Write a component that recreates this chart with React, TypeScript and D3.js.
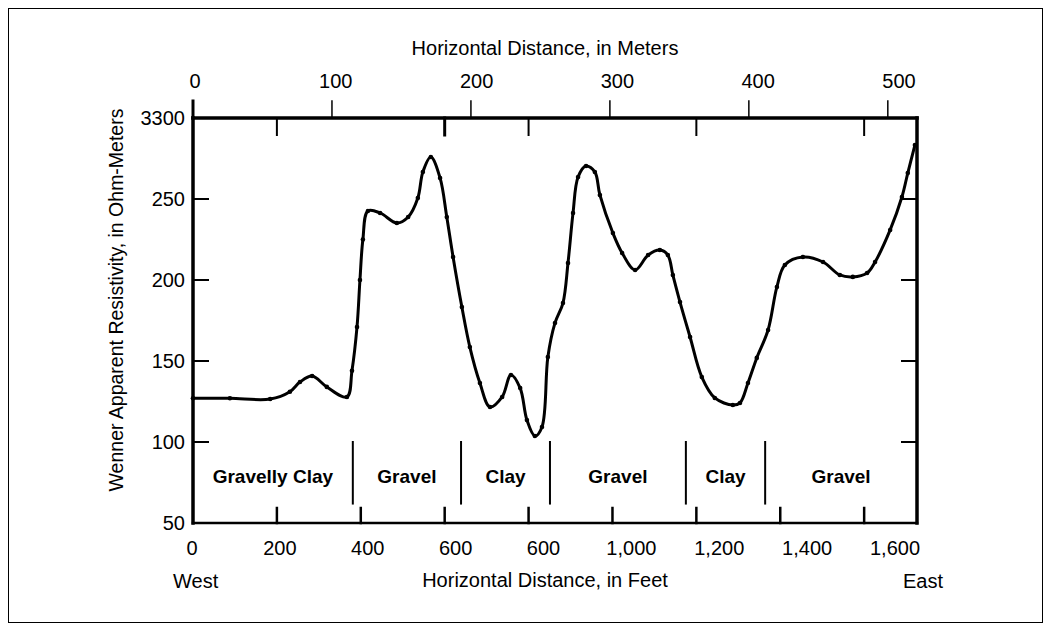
import { useEffect, useRef } from "react";
import * as d3 from "d3";

// Resistivity profile (distance in feet, ohm-meters)
const DIST_FT = [
  0, 88, 184, 231, 255, 284, 319, 367, 379, 391, 398, 405, 417, 446, 486, 513,
  536, 548, 567, 589, 605, 620, 641, 660, 684, 708, 737, 758, 780, 796, 815,
  832, 846, 863, 882, 894, 906, 918, 937, 958, 970, 1001, 1023, 1054, 1085,
  1113, 1132, 1144, 1161, 1185, 1213, 1244, 1287, 1304, 1323, 1344, 1371,
  1392, 1411, 1454, 1502, 1542, 1573, 1607, 1626, 1662, 1690, 1704, 1721,
];
const RESISTIVITY = [
  127, 127, 126.5, 131, 137, 140.7, 134, 127.8, 144, 171, 200, 225, 242.6,
  241.4, 235.2, 238.9, 250.6, 266.7, 275.9, 263, 238.9, 214.2, 183.3, 158.6,
  136.4, 121.6, 127.8, 141.4, 133.3, 113.6, 103.7, 109.3, 152.5, 173.5, 185.8,
  210.5, 241.4, 263.6, 270.4, 266.7, 252.5, 229, 216.7, 206.2, 215.4, 218.5,
  215.4, 203.1, 186.4, 164.8, 140.1, 127.2, 122.8, 124.1, 136.4, 151.9, 169.1,
  195.7, 209.3, 214.2, 211.1, 203.1, 201.9, 204.3, 211.1, 230.9, 251.2, 266,
  283.3,
];

// Soil layers along the profile
const LAYER_NAMES = ["Gravelly Clay", "Gravel", "Clay", "Gravel", "Clay", "Gravel"];
const LAYER_BOUNDS_FT = [0, 381, 639, 851, 1175, 1364, 1726];

const Y_TICKS = [300, 250, 200, 150, 100, 50];
const Y_LABELS = ["3300", "250", "200", "150", "100", "50"];
const FEET_TICKS = [0, 200, 400, 600, 800, 1000, 1200, 1400, 1600];
const FEET_LABELS = ["0", "200", "400", "600", "600", "1,000", "1,200", "1,400", "1,600"];
const METER_TICKS = [0, 100, 200, 300, 400, 500];
const TOP_FEET_TICKS = [200, 600, 800, 1200, 1600];

const W = 1051;
const H = 631;
const PLOT = { left: 193, top: 118, right: 917, bottom: 523 };
const FONT = "'Liberation Sans', Arial, Helvetica, sans-serif";

export default function App() {
  const svgRef = useRef<SVGSVGElement>(null);

  useEffect(() => {
    if (!svgRef.current) return;
    const svg = d3.select(svgRef.current);
    svg.selectAll("*").remove();

    const x = d3.scaleLinear().domain([0, 1726]).range([PLOT.left, PLOT.right]);
    const xM = d3.scaleLinear().domain([0, 521]).range([PLOT.left, PLOT.right]);
    // the printed labels drift a little from their ticks in the source
    const xLab = d3.scaleLinear().domain([0, 1600]).range([192, 895]);
    const xMLab = d3.scaleLinear().domain([0, 500]).range([195, 899]);
    const y = d3.scaleLinear().domain([50, 300]).range([PLOT.bottom, PLOT.top]);

    // outer frame
    svg.append("rect")
      .attr("x", 8.5).attr("y", 8.5)
      .attr("width", W - 17).attr("height", H - 17)
      .attr("fill", "none").attr("stroke", "#000").attr("stroke-width", 1);

    const g = svg.append("g");

    const seg = (x1: number, y1: number, x2: number, y2: number, w = 2) =>
      g.append("line")
        .attr("x1", x1).attr("y1", y1).attr("x2", x2).attr("y2", y2)
        .attr("stroke", "#000").attr("stroke-width", w)
        .attr("stroke-linecap", "square");

    // ticks
    Y_TICKS.filter((v) => v !== 300 && v !== 50).forEach((v) => {
      seg(PLOT.left, y(v), PLOT.left + 15, y(v));
      seg(PLOT.right, y(v), PLOT.right - 15, y(v));
    });
    FEET_TICKS.filter((f) => f > 0).forEach((f) => {
      seg(x(f), PLOT.bottom, x(f), PLOT.bottom - 15, 2.5);
    });
    METER_TICKS.forEach((m) => {
      seg(xM(m), PLOT.top, xM(m), PLOT.top - 17, m === 0 ? 3 : 1.5);
    });
    TOP_FEET_TICKS.forEach((f) => {
      seg(x(f), PLOT.top, x(f), PLOT.top + 17, f === 600 ? 3 : 2);
    });

    // axis lines
    seg(PLOT.left, PLOT.top, PLOT.right, PLOT.top, 3.5);
    seg(PLOT.left, PLOT.top, PLOT.left, PLOT.bottom, 3.5);
    seg(PLOT.right, PLOT.top, PLOT.right, PLOT.bottom, 3.5);
    seg(PLOT.left, PLOT.bottom, PLOT.right, PLOT.bottom, 2.5);

    // layer dividers
    LAYER_BOUNDS_FT.slice(1, -1).forEach((f) => {
      seg(x(f), y(100), x(f), y(62), 2);
    });

    const text = (
      s: string, tx: number, ty: number,
      anchor = "middle", size = 20, weight = "normal",
    ) =>
      g.append("text")
        .attr("x", tx).attr("y", ty)
        .attr("text-anchor", anchor)
        .attr("font-family", FONT)
        .attr("font-size", size)
        .attr("font-weight", weight)
        .attr("fill", "#000")
        .text(s);

    LAYER_NAMES.forEach((name, i) => {
      const cx = (x(LAYER_BOUNDS_FT[i]) + x(LAYER_BOUNDS_FT[i + 1])) / 2;
      text(name, cx, 483, "middle", 19, "bold");
    });

    // curve
    const pts = DIST_FT.map((d, i) => ({ d, v: RESISTIVITY[i] }));
    const line = d3.line<(typeof pts)[0]>()
      .x((p) => x(p.d))
      .y((p) => y(p.v))
      .curve(d3.curveCatmullRom.alpha(0.5));

    g.append("path")
      .datum(pts)
      .attr("d", line)
      .attr("fill", "none")
      .attr("stroke", "#000")
      .attr("stroke-width", 3)
      .attr("stroke-linejoin", "round");

    g.selectAll("circle.pt")
      .data(pts)
      .join("circle")
      .attr("class", "pt")
      .attr("cx", (p) => x(p.d))
      .attr("cy", (p) => y(p.v))
      .attr("r", 2.3)
      .attr("fill", "#000");

    // y labels
    Y_TICKS.forEach((v, i) => text(Y_LABELS[i], 185, y(v) + 7, "end"));

    // bottom labels
    FEET_TICKS.forEach((f, i) => text(FEET_LABELS[i], xLab(f), 555));
    // top labels
    METER_TICKS.forEach((m) => text(String(m), xMLab(m), 88));

    text("Horizontal Distance, in Meters", 545, 55);
    text("Horizontal Distance, in Feet", 545, 587);
    text("West", 173, 588, "start");
    text("East", 903, 588, "start");

    g.append("text")
      .attr("transform", `translate(123,300) rotate(-90)`)
      .attr("text-anchor", "middle")
      .attr("font-family", FONT)
      .attr("font-size", 19.5)
      .attr("fill", "#000")
      .text("Wenner Apparent Resistivity, in Ohm-Meters");
  }, []);

  return (
    <svg
      ref={svgRef}
      width={W}
      height={H}
      style={{ position: "absolute", left: 0, top: 0, background: "#fff" }}
    />
  );
}
